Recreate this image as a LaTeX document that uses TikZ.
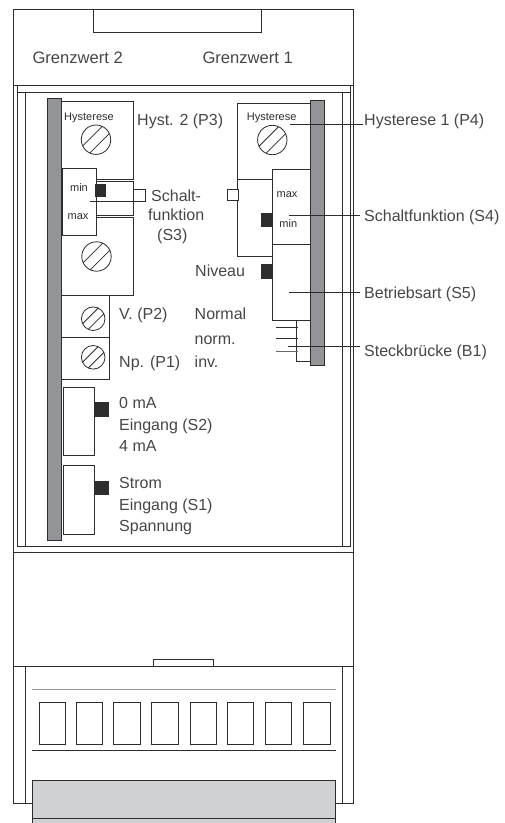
\documentclass[tikz,border=0pt]{standalone}
\usepackage{xcolor}
\usepackage{fontspec}
\setmainfont{Liberation Sans}
\usepackage{tikz}
\usetikzlibrary{positioning}
\definecolor{barcolor}{RGB}{146,148,151}
\definecolor{platecolor}{RGB}{208,209,211}
\definecolor{inkcolor}{RGB}{45,45,45}
\definecolor{labelcolor}{RGB}{70,70,70}

\begin{document}
\begin{tikzpicture}[
            x=1pt, y=-1pt,
            frame/.style={draw=inkcolor, line width=0.8pt},
            box/.style={draw=inkcolor, line width=0.8pt, fill=white},
            bar/.style={draw=inkcolor, line width=0.6pt, fill=barcolor},
            slider/.style={draw=none, fill=inkcolor},
            leader/.style={draw=inkcolor, line width=0.7pt},
            lbl/.style={anchor=base west, inner sep=0pt, text=labelcolor, font=\fontsize{16}{18}\selectfont},
            tiny/.style={anchor=base, inner sep=0pt, text=inkcolor, font=\fontsize{11}{13}\selectfont}
        ]
            \useasboundingbox (0,0) rectangle (505,823);

            % housing
            \draw[frame] (13.5,9) rectangle (353,803);
            \draw[frame] (93,9) rectangle (261,32);
            \draw[frame] (13.5,85) -- (353,85);
            \draw[frame] (13.5,552.7) -- (353,552.7);
            \draw[frame] (17,85) -- (17,546) -- (350,546) -- (350,85);
            \draw[frame] (17,92) -- (350,92);
            \draw[frame] (25,92) -- (25,546);
            \draw[frame] (342.7,92) -- (342.7,546);

            % terminal block
            \draw[frame] (13.5,666.7) -- (353,666.7);
            \draw[frame] (153.3,666.7) rectangle (213.3,659.3);
            \draw[frame] (25,666.7) -- (25,803);
            \draw[frame] (342.7,666.7) -- (342.7,803);
            \draw[barcolor, line width=1.3pt] (32.3,689.7) -- (335.7,689.7);
            \draw[frame] (32.3,750.3) -- (335.7,750.3);
            \foreach \xa/\xb in {39/65.3, 76/102.3, 113.7/140.3, 151.3/178, 190.3/216.3, 227.3/253.7, 265.3/291.7, 303.7/330.3}
                \draw[frame] (\xa,702.3) rectangle (\xb,744.7);
            \fill[platecolor] (32.3,780.3) rectangle (335.7,823);
            \draw[frame] (32.3,823) -- (32.3,780.3) -- (335.7,780.3) -- (335.7,823);
            \draw[frame] (32.3,818.3) -- (335.7,818.3);

            % left side
            \draw[box] (61.7,101) rectangle (133.7,179);
            \draw[box] (96,181.3) rectangle (133.7,215);
            \draw[box] (61.7,217.3) rectangle (133.7,295.3);
            \draw[box] (61.7,295.3) rectangle (109,337);
            \draw[box] (61.7,337) rectangle (109,379);
            \draw[box] (63,387) rectangle (94.7,455.7);
            \draw[box] (63,465.3) rectangle (94.7,534);
            \draw[box] (62,168.3) rectangle (96,235.3);
            \draw[bar] (47.3,98) rectangle (61.7,540);
            \fill[slider] (95,184) rectangle (105.7,196.7);
            \fill[slider] (94.3,402.3) rectangle (109.3,417);
            \fill[slider] (94.3,480.7) rectangle (109.3,495.3);
            \draw[box] (133.7,189.7) rectangle (145,201);

            % right side
            \draw[box] (237.7,103) rectangle (310.7,179);
            \draw[box] (237.7,179) rectangle (272,256);
            \draw[box] (272,169) rectangle (310,244.7);
            \draw[box] (272,244.7) rectangle (310,320.3);
            \draw[box] (296,320.3) rectangle (310,361.7);
            \draw[bar] (310.7,100.3) rectangle (324.3,365.3);
            \draw[box] (227.7,189.3) rectangle (238.7,200.3);
            \fill[slider] (261,213) rectangle (273,227.3);
            \fill[slider] (261,264.3) rectangle (273,279);
            \draw[leader] (276,327.7) -- (297.7,327.7);
            \draw[leader] (276,338.3) -- (297.7,338.3);
            \draw[leader, draw=barcolor!70!black] (276,351.7) -- (297.7,351.7);

            % screws
            \foreach \cx/\cy/\rad in {96/139.7/14.7, 96.5/256.5/14.7, 93.2/318.7/11.8, 93.2/357.3/11.8, 272.3/140/14.7}
                \draw[frame, shift={(\cx,\cy)}] (0,0) circle[radius=\rad]
                    (-65:\rad) -- (-205:\rad) (-25:\rad) -- (115:\rad);

            % small texts
            \node[tiny] (hystleft) at (89,120) {Hysterese};
            \node[tiny] (hystright) at (271.7,120) {Hysterese};
            \node[tiny] (minleft) at (79,191) {min};
            \node[tiny] (maxleft) at (78,219) {max};
            \node[tiny] (maxright) at (287,197) {max};
            \node[tiny] (minright) at (288.3,227) {min};

            % labels
            \node[lbl, font=\fontsize{16.6}{18}\selectfont] (grenz2) at (32.3,63.3) {Grenzwert 2};
            \node[lbl, font=\fontsize{16.6}{18}\selectfont] (grenz1) at (202.3,63.3) {Grenzwert 1};
            \node[lbl] (hyst2) at (137,125) {Hyst. 2 (P3)};
            \node[lbl] (schalt) at (151,201.5) {Schalt-};
            \node[lbl] (funktion) at (148,220.5) {funktion};
            \node[lbl] (sdrei) at (157,240.5) {(S3)};
            \node[lbl] (niveau) at (195,276.5) {Niveau};
            \node[lbl] (normal) at (194.5,319.5) {Normal};
            \node[lbl] (norm) at (194.5,344.5) {norm.};
            \node[lbl] (inv) at (194.5,367) {inv.};
            \node[lbl] (pzwei) at (119,319.5) {V. (P2)};
            \node[lbl] (peins) at (119,367) {Np. (P1)};
            \node[lbl] (nullma) at (119,408.5) {0 mA};
            \node[lbl] (eingang2) at (119,430.5) {Eingang (S2)};
            \node[lbl] (vierma) at (119,451.5) {4 mA};
            \node[lbl] (strom) at (119,488.5) {Strom};
            \node[lbl] (eingang1) at (119,510.5) {Eingang (S1)};
            \node[lbl] (spannung) at (119,531.5) {Spannung};
            \node[lbl] (hyst1) at (364,125.5) {Hysterese 1 (P4)};
            \node[lbl] (sfunk) at (364,221.5) {Schaltfunktion (S4)};
            \node[lbl] (modus) at (364,298) {Betriebsart (S5)};
            \node[lbl] (bruecke) at (364,356) {Steckbrücke (B1)};

            % leader lines
            \coordinate (s3end) at (90,201.3);
            \coordinate (p4end) at (290,124.3);
            \coordinate (s4end) at (289,215.3);
            \coordinate (s5end) at (289,292);
            \coordinate (b1end) at (288.3,346);
            \draw[leader] (s3end) -- ([xshift=-5.5pt]s3end -| schalt.west);
            \draw[leader] (p4end) -- ([xshift=-1pt]p4end -| hyst1.west);
            \draw[leader] (s4end) -- ([xshift=-4pt]s4end -| sfunk.west);
            \draw[leader] (s5end) -- ([xshift=-4pt]s5end -| modus.west);
            \draw[leader] (b1end) -- ([xshift=-4pt]b1end -| bruecke.west);
        \end{tikzpicture}
\end{document}
